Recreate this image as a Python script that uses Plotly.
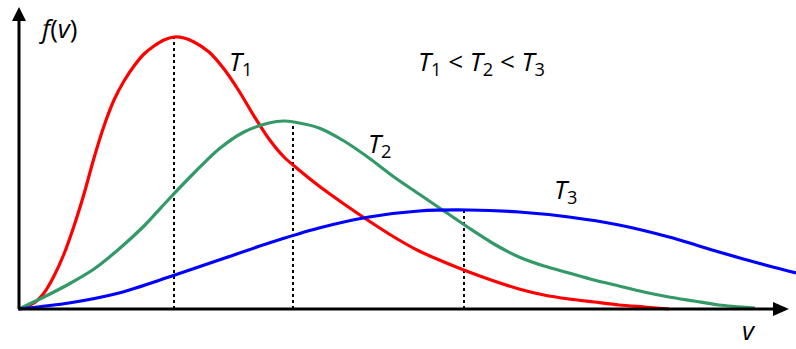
import numpy as np
import plotly.graph_objects as go

# Speed axis v and distribution f(v), in plot units (origin at the axes corner)
v_t1 = [0, 15, 25, 35, 45, 55, 65, 75, 85, 95, 105, 115, 125, 135, 145, 155, 165,
        175, 190, 205, 220, 235, 250, 265, 280, 300, 325, 350, 375, 400, 425, 450,
        475, 500, 525, 550, 575, 600, 625, 650]
f_t1 = [0, 6, 16, 33, 55, 83, 115, 151, 183, 209, 228, 243, 255, 263, 269, 272, 271,
        267, 257, 240, 218, 193, 170, 152, 139, 123, 105, 88, 72, 58, 47, 37,
        28, 20, 14, 10, 7, 4, 2, 0]

v_t2 = [0, 25, 50, 75, 100, 125, 150, 175, 200, 225, 250, 265, 275, 300, 325, 350,
        375, 400, 425, 450, 475, 500, 525, 550, 575, 600, 625, 650, 675, 700, 736]
f_t2 = [0, 12, 25, 40, 60, 83, 110, 136, 160, 177, 186, 188, 187, 181, 168, 151,
        132, 115, 98, 81, 65, 52, 43, 36, 29, 23, 17, 12, 8, 4, 1]

v_t3 = [0, 50, 100, 150, 200, 250, 300, 350, 400, 450, 500, 550, 600, 650, 700, 750, 777]
f_t3 = [0, 6, 16, 32, 49, 66, 81, 92, 98, 99, 97, 92, 84, 72, 57, 43, 36]

# Most probable speeds, marked with dotted drop lines
v_peak = [155, 274, 445]

curves = [
    (v_t1, f_t1, "#ff0000"),
    (v_t2, f_t2, "#339966"),
    (v_t3, f_t3, "#0000ff"),
]

fig = go.Figure()

# Dotted lines from each curve down to the v axis
for (vx, fy, _), vp in zip(curves, v_peak):
    top = float(np.interp(vp, vx, fy))
    fig.add_trace(go.Scatter(
        x=[vp, vp], y=[0, top], mode="lines",
        line=dict(color="black", width=2, dash="dot"),
        hoverinfo="skip", showlegend=False,
    ))

for vx, fy, color in curves:
    fig.add_trace(go.Scatter(
        x=vx, y=fy, mode="lines",
        line=dict(color=color, width=3.2, shape="spline", smoothing=0.8),
        hoverinfo="skip", showlegend=False,
    ))

# Axes drawn as arrows
shapes = [
    dict(type="line", x0=0, y0=0, x1=0, y1=290, line=dict(color="black", width=3)),
    dict(type="line", x0=-1, y0=0, x1=756, y1=0, line=dict(color="black", width=3)),
    dict(type="path", path="M -7 288 L 7 288 L 0 302 Z",
         fillcolor="black", line=dict(color="black", width=0)),
    dict(type="path", path="M 754 -7 L 754 7 L 770 0 Z",
         fillcolor="black", line=dict(color="black", width=0)),
]

font = dict(family="Open Sans", size=26, color="black")
labels = [
    (18, 301, "<i>f</i>(<i>v</i>)"),
    (208, 268, "<i>T</i><sub>1</sub>"),
    (347, 186, "<i>T</i><sub>2</sub>"),
    (533, 140, "<i>T</i><sub>3</sub>"),
    (397, 268, "<i>T</i><sub>1</sub> &lt; <i>T</i><sub>2</sub> &lt; <i>T</i><sub>3</sub>"),
    (721, -1, "<i>v</i>"),
]
annotations = [
    dict(x=x, y=y, text=t, xref="x", yref="y", xanchor="left", yanchor="top",
         showarrow=False, font=font)
    for x, y, t in labels
]

fig.update_layout(
    width=796, height=349,
    margin=dict(l=0, r=0, t=0, b=0),
    paper_bgcolor="white", plot_bgcolor="white",
    xaxis=dict(range=[-19, 777], visible=False, fixedrange=True),
    yaxis=dict(range=[-40, 309], visible=False, fixedrange=True),
    shapes=shapes, annotations=annotations,
)

fig.write_html("out.html")
